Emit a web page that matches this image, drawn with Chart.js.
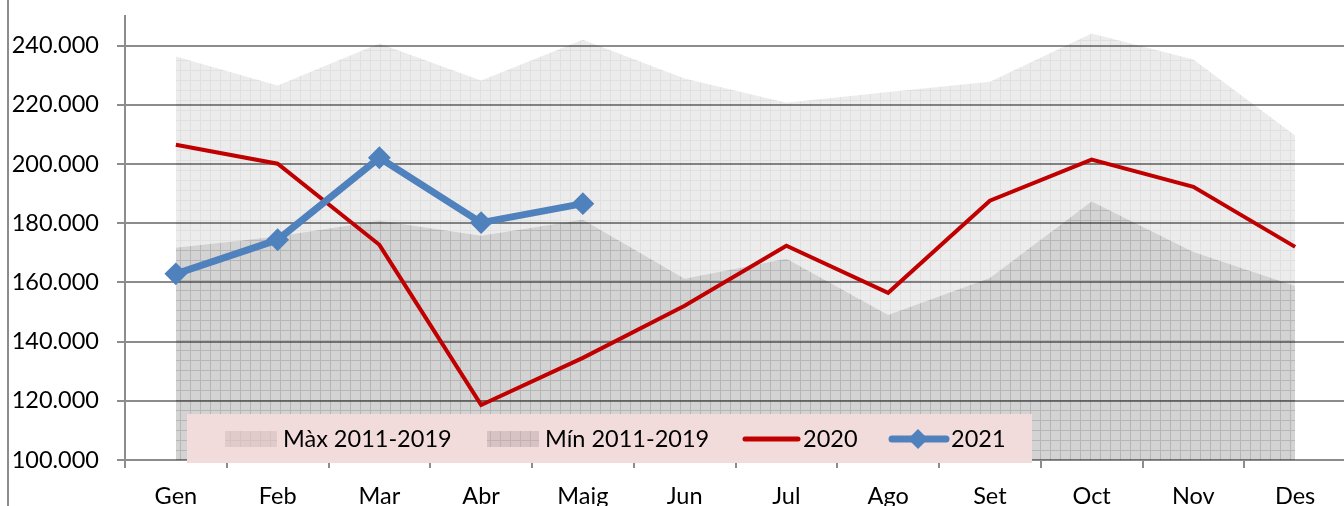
<!DOCTYPE html>
<html>
<head>
<meta charset="utf-8">
<script src="https://cdn.jsdelivr.net/npm/chart.js@4/dist/chart.umd.min.js"></script>
<style>
  html, body { margin: 0; padding: 0; background: #fff; overflow: hidden; }
  #caixa { position: relative; width: 1346px; height: 506px; }
</style>
</head>
<body>
<div id="caixa"><canvas id="grafic" width="1346" height="506"></canvas></div>
<script>
// Dades
const mesos = ['Gen', 'Feb', 'Mar', 'Abr', 'Maig', 'Jun', 'Jul', 'Ago', 'Set', 'Oct', 'Nov', 'Des'];
const maxim = [236300, 226500, 240700, 228200, 242000, 228900, 220700, 224300, 227800, 244100, 235300, 209600];
const minim = [171700, 175500, 180800, 175800, 181200, 161200, 168000, 149000, 161500, 187300, 170300, 158800];
const any2020 = [206500, 200100, 172700, 118600, 134500, 152100, 172400, 156500, 187600, 201500, 192300, 172000];
const any2021 = [162900, 174400, 202100, 180200, 186600];
const marques = [100000, 120000, 140000, 160000, 180000, 200000, 220000, 240000];

const FONT = 'Lato';

// Patró de quadrícula per a les àrees
function patro(fons, linia) {
  const c = document.createElement('canvas');
  c.width = 10; c.height = 10;
  const g = c.getContext('2d');
  g.fillStyle = fons;
  g.fillRect(0, 0, 10, 10);
  g.fillStyle = linia;
  g.fillRect(0, 0, 10, 1);
  g.fillRect(0, 1, 1, 9);
  return g.createPattern(c, 'repeat');
}
const patroMax = patro('rgba(0,0,0,0.075)', 'rgba(0,0,0,0.05)');
const patroMin = patro('rgba(0,0,0,0.11)', 'rgba(0,0,0,0.09)');

const formatNum = v => v.toLocaleString('de-DE');

// Treu el farciment automàtic de les escales
function senseFarciment(s) {
  s.paddingTop = 0; s.paddingBottom = 0;
  s.paddingLeft = 0; s.paddingRight = 0;
}

// Llegenda dins del gràfic + marc esquerre
const llegenda = {
  id: 'llegenda',
  beforeDraw(chart) {
    const ctx = chart.ctx;
    ctx.save();
    ctx.strokeStyle = '#8c8c8c';
    ctx.lineWidth = 2;
    ctx.beginPath();
    ctx.moveTo(8, 0);
    ctx.lineTo(8, 506);
    ctx.stroke();
    ctx.restore();
  },
  afterDraw(chart) {
    const ctx = chart.ctx;
    ctx.save();
    ctx.fillStyle = '#f2dcdb';
    ctx.fillRect(187, 414, 845, 49);

    ctx.fillStyle = patroMax;
    ctx.fillRect(225, 431, 52, 16);
    ctx.fillStyle = patroMin;
    ctx.fillRect(487, 431, 52, 16);

    ctx.lineCap = 'round';
    ctx.strokeStyle = '#c00000';
    ctx.lineWidth = 5;
    ctx.beginPath(); ctx.moveTo(745, 439); ctx.lineTo(798, 439); ctx.stroke();
    ctx.strokeStyle = '#4f81bd';
    ctx.lineWidth = 7;
    ctx.beginPath(); ctx.moveTo(892, 439); ctx.lineTo(946, 439); ctx.stroke();
    ctx.fillStyle = '#4f81bd';
    ctx.beginPath();
    ctx.moveTo(918, 429); ctx.lineTo(928, 439); ctx.lineTo(918, 449); ctx.lineTo(908, 439);
    ctx.closePath(); ctx.fill();

    ctx.fillStyle = '#000';
    ctx.font = '23.5px ' + FONT;
    ctx.textBaseline = 'alphabetic';
    ctx.fillText('Màx 2011-2019', 283, 447);
    ctx.fillText('Mín 2011-2019', 545, 447);
    ctx.fillText('2020', 803, 447);
    ctx.fillText('2021', 951, 447);
    ctx.restore();
  }
};

new Chart(document.getElementById('grafic'), {
  type: 'line',
  data: {
    labels: mesos,
    datasets: [
      {
        label: '2021',
        data: any2021,
        borderColor: '#4f81bd',
        backgroundColor: '#4f81bd',
        borderWidth: 7,
        pointStyle: 'rectRot',
        pointRadius: 10,
        pointBorderWidth: 2,
        fill: false,
        order: 0
      },
      {
        label: '2020',
        data: any2020,
        borderColor: '#c00000',
        borderWidth: 4,
        pointRadius: 0,
        fill: false,
        order: 1
      },
      {
        label: 'Mín 2011-2019',
        data: minim,
        borderWidth: 0,
        borderColor: 'rgba(0,0,0,0)',
        backgroundColor: patroMin,
        pointRadius: 0,
        fill: 'start',
        order: 2
      },
      {
        label: 'Màx 2011-2019',
        data: maxim,
        borderWidth: 0,
        borderColor: 'rgba(0,0,0,0)',
        backgroundColor: patroMax,
        pointRadius: 0,
        fill: 'start',
        order: 3
      }
    ]
  },
  options: {
    responsive: false,
    animation: false,
    layout: { autoPadding: false, padding: { top: 16, left: 0, right: 0, bottom: 0 } },
    plugins: {
      legend: { display: false },
      tooltip: { enabled: false }
    },
    scales: {
      x: {
        offset: true,
        grid: { offset: true, drawOnChartArea: false, tickLength: 8, color: '#8c8c8c', lineWidth: 2 },
        border: { color: '#8c8c8c', width: 2 },
        ticks: { color: '#000', font: { family: FONT, size: 23.5 }, padding: 14, maxRotation: 0 },
        afterFit: s => { s.height = 46; senseFarciment(s); }
      },
      y: {
        min: 100000,
        max: 250000,
        afterBuildTicks: s => { s.ticks = marques.map(v => ({ value: v })); },
        grid: { tickLength: 8, color: '#8c8c8c', lineWidth: 2 },
        border: { color: '#8c8c8c', width: 2 },
        ticks: { color: '#000', font: { family: FONT, size: 23.5 }, padding: 18, callback: v => formatNum(v) },
        afterFit: s => { s.width = 125; senseFarciment(s); }
      }
    }
  },
  plugins: [llegenda]
});
</script>
</body>
</html>
